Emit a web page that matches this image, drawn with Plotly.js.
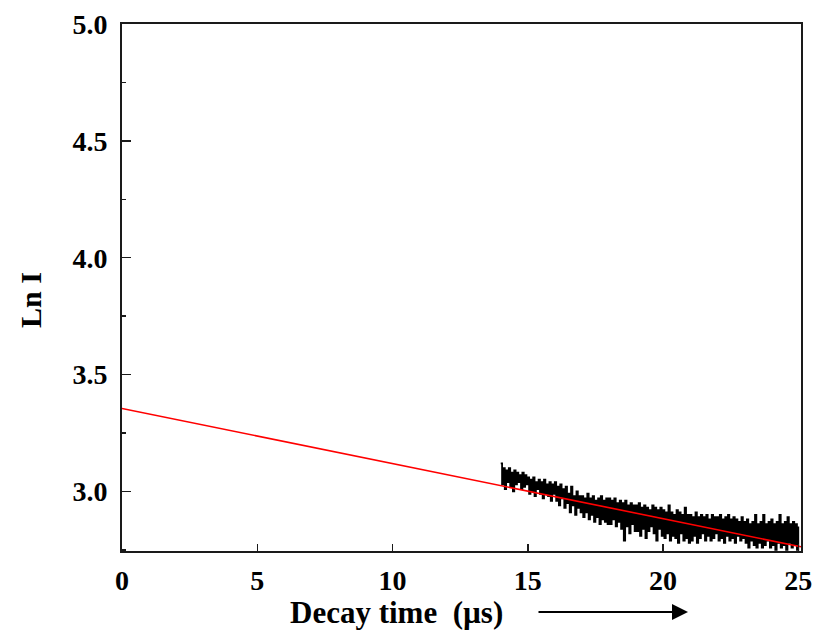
<!DOCTYPE html>
<html>
<head>
<meta charset="utf-8">
<script src="https://cdn.plot.ly/plotly-3.0.1.min.js"></script>
<style>html,body{margin:0;padding:0;background:#fff;}#chart{width:816px;height:634px;}</style>
</head>
<body>
<div id="chart"></div>
<script>
// Measured decay signal (ln I), sampled every 0.05 µs from 14.0 µs to 25.0 µs
const signalStart = 14.0;
const signalStep = 0.05;
const signalLnI = [
  3.12, 3.03, 3.10, 3.01, 3.09, 3.04, 3.10, 3.02, 3.08, 3.00, 3.09, 3.03, 3.08, 3.04, 3.07, 3.01, 3.08, 3.02, 3.07, 3.03,
  3.06, 2.99, 3.05, 3.00, 3.06, 2.98, 3.04, 3.01, 3.05, 2.99, 3.04, 2.97, 3.05, 2.99, 3.03, 2.98, 3.04, 2.96, 3.03, 2.99,
  3.04, 2.96, 3.02, 2.94, 3.03, 2.97, 3.01, 2.93, 3.02, 2.95, 2.99, 2.91, 3.02, 2.94, 2.98, 2.90, 3.00, 2.93, 2.98, 2.91,
  2.98, 2.89, 2.97, 2.91, 2.99, 2.88, 2.97, 2.90, 2.98, 2.87, 2.96, 2.89, 2.97, 2.86, 2.98, 2.88, 2.96, 2.87, 2.97, 2.86,
  2.97, 2.86, 2.96, 2.88, 2.97, 2.85, 2.95, 2.87, 2.96, 2.84, 2.95, 2.79, 2.96, 2.85, 2.94, 2.82, 2.95, 2.86, 2.94, 2.83,
  2.94, 2.83, 2.95, 2.81, 2.93, 2.84, 2.94, 2.80, 2.93, 2.83, 2.92, 2.85, 2.94, 2.82, 2.93, 2.79, 2.92, 2.84, 2.93, 2.81,
  2.92, 2.80, 2.91, 2.82, 2.94, 2.79, 2.91, 2.81, 2.90, 2.80, 2.92, 2.78, 2.91, 2.82, 2.90, 2.79, 2.93, 2.80, 2.90, 2.78,
  2.90, 2.79, 2.89, 2.81, 2.91, 2.78, 2.89, 2.80, 2.90, 2.82, 2.89, 2.79, 2.90, 2.81, 2.88, 2.79, 2.90, 2.80, 2.89, 2.82,
  2.89, 2.79, 2.90, 2.80, 2.88, 2.78, 2.89, 2.81, 2.90, 2.79, 2.88, 2.80, 2.89, 2.78, 2.88, 2.81, 2.87, 2.79, 2.89, 2.80,
  2.87, 2.78, 2.88, 2.76, 2.86, 2.79, 2.87, 2.77, 2.90, 2.76, 2.86, 2.78, 2.87, 2.76, 2.90, 2.77, 2.86, 2.79, 2.87, 2.76,
  2.88, 2.77, 2.86, 2.75, 2.87, 2.78, 2.90, 2.76, 2.86, 2.77, 2.87, 2.75, 2.89, 2.78, 2.86, 2.76, 2.87, 2.77, 2.86, 2.75, 2.85
];
const signalTime = signalLnI.map((_, i) => +(signalStart + i * signalStep).toFixed(2));

// Linear fit line
const fitTime = [0, 25.1];
const fitLnI = [3.355, 2.763];

// Axis ticks
const xTickVals = [0, 5, 10, 15, 20, 25];
const xTickText = ['0', '5', '10', '15', '20', '25'];
const yTickVals = [3.0, 3.5, 4.0, 4.5, 5.0];
const yTickText = ['3.0', '3.5', '4.0', '4.5', '5.0'];

const xTitle = 'Decay time  (µs)';
const yTitle = 'Ln I';

const serif = 'Liberation Serif, Times New Roman, serif';

const traces = [
  {
    x: signalTime, y: signalLnI, type: 'scatter', mode: 'lines',
    line: {color: '#000000', width: 1.8, shape: 'hv'},
    hoverinfo: 'skip', showlegend: false
  },
  {
    x: fitTime, y: fitLnI, type: 'scatter', mode: 'lines',
    line: {color: '#ff0000', width: 1.6},
    hoverinfo: 'skip', showlegend: false
  }
];

const layout = {
  width: 816, height: 634,
  margin: {l: 122, r: 15, t: 24, b: 83},
  paper_bgcolor: '#ffffff', plot_bgcolor: '#ffffff',
  showlegend: false,
  xaxis: {
    range: [0, 25.1], showgrid: false, zeroline: false,
    showline: true, linecolor: '#1a1a1a', linewidth: 2, mirror: true,
    ticks: 'inside', ticklen: 7, tickwidth: 1.5, tickcolor: '#1a1a1a',
    tickmode: 'array', tickvals: xTickVals, ticktext: xTickText,
    tickfont: {family: serif, size: 28, color: '#000', weight: 'bold'},
    ticklabelstandoff: 3
  },
  yaxis: {
    range: [2.745, 5.0], showgrid: false, zeroline: false,
    showline: true, linecolor: '#1a1a1a', linewidth: 2, mirror: true,
    ticks: 'inside', ticklen: 9, tickwidth: 1.5, tickcolor: '#1a1a1a',
    tickmode: 'array', tickvals: yTickVals, ticktext: yTickText,
    tickfont: {family: serif, size: 28, color: '#000', weight: 'bold'},
    ticklabelstandoff: 7,
    minor: {ticks: 'inside', ticklen: 4, tickwidth: 1.5, tickcolor: '#1a1a1a', dtick: 0.25, tick0: 2.75}
  },
  annotations: [
    {
      text: xTitle, xref: 'paper', yref: 'paper',
      x: (396 - 122) / 679, y: (551 - 612) / 527,
      xanchor: 'center', yanchor: 'middle', showarrow: false,
      font: {family: serif, size: 31, color: '#000', weight: 'bold'}
    },
    {
      text: yTitle, xref: 'paper', yref: 'paper',
      x: (30 - 122) / 679, y: (551 - 300) / 527,
      xanchor: 'center', yanchor: 'middle', showarrow: false, textangle: -90,
      font: {family: serif, size: 30, color: '#000', weight: 'bold'}
    },
    {
      text: '', xref: 'paper', yref: 'paper',
      x: (688 - 122) / 679, y: (551 - 612) / 527,
      showarrow: true, arrowhead: 2, arrowsize: 1.6, arrowwidth: 2, arrowcolor: '#000',
      ax: -151, ay: 0, standoff: 0
    }
  ]
};

Plotly.newPlot('chart', traces, layout, {staticPlot: true, displayModeBar: false});
</script>
</body>
</html>
